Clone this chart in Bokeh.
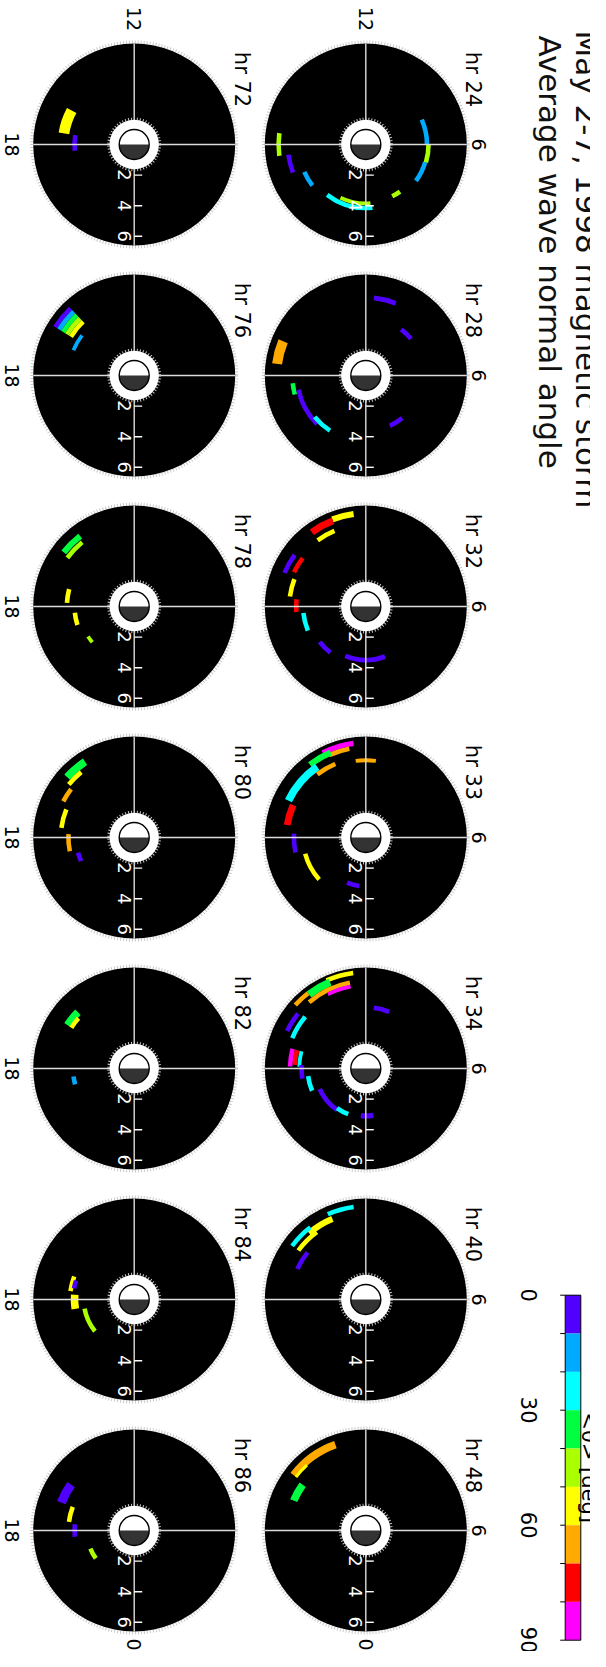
import numpy as np
from bokeh.plotting import figure
from bokeh.models import Range1d, ColumnDataSource, LinearColorMapper
from bokeh.transform import transform
from bokeh.core.properties import value
from bokeh.embed import file_html
from bokeh.resources import INLINE

# ---------------- data ----------------
TITLE_LINES = ["May 2-7, 1998 magnetic storm", "Average wave normal angle"]
CBAR_LABEL = "<θ> [deg]"
HOURS_ROW1 = [24, 28, 32, 33, 34, 40, 48]
HOURS_ROW2 = [72, 76, 78, 80, 82, 84, 86]
ANGLE_PALETTE = ["#5000ff", "#00aaff", "#00ffff", "#00ff40", "#aaff00",
                 "#ffff00", "#ffaa00", "#ff0000", "#ff00ff"]
ANGLE_LOW, ANGLE_HIGH = 0, 90
CBAR_TICKS = [0, 10, 20, 30, 40, 50, 60, 70, 80, 90]
CBAR_LABELED = [0, 30, 60, 90]
L_TICKS = [2, 4, 6]

# arc segments: hour, L (centre), radial width, MLT start, MLT end, mean wave normal angle
ARC_HOUR = [24, 24, 24, 24, 24, 24, 24, 24, 24,
            28, 28, 28, 28, 28, 28, 28,
            32, 32, 32, 32, 32, 32, 32, 32, 32, 32,
            33, 33, 33, 33, 33, 33, 33, 33, 33, 33,
            34, 34, 34, 34, 34, 34, 34, 34, 34, 34, 34, 34, 34, 34, 34, 34,
            40, 40, 40, 40, 40,
            48, 48, 48,
            72, 72,
            76, 76, 76, 76, 76, 76,
            78, 78, 78, 78, 78,
            80, 80, 80, 80, 80, 80,
            82, 82, 82,
            84, 84, 84, 84,
            86, 86, 86, 86]
ARC_L = [4.05, 4.1, 4.0, 3.8, 4.15, 3.85, 4.4, 5.1, 5.7,
         5.1, 3.8, 3.65, 5.85, 4.8, 4.5, 4.3,
         6.1, 6.0, 5.35, 5.75, 5.2, 5.0, 4.55, 4.1, 3.8, 3.5,
         6.2, 5.9, 6.0, 5.6, 5.2, 5.05, 5.2, 4.7, 4.1, 3.2,
         6.3, 6.1, 5.7, 5.45, 6.2, 4.0, 5.7, 5.2, 4.95, 4.65, 4.35, 4.2, 3.8, 3.3, 3.2, 3.1,
         6.1, 5.7, 5.95, 5.45, 4.9,
         5.95, 5.75, 5.1,
         4.65, 3.9,
         6.05, 5.75, 5.45, 5.15, 4.85, 4.3,
         5.8, 5.4, 4.4, 3.9, 3.6,
         5.9, 5.5, 5.2, 4.8, 4.3, 3.8,
         5.2, 4.9, 4.0,
         4.2, 4.0, 3.9, 3.3,
         5.1, 4.3, 3.9, 3.1]
ARC_DL = [0.3, 0.3, 0.3, 0.3, 0.3, 0.25, 0.3, 0.3, 0.3,
          0.3, 0.3, 0.3, 0.65, 0.3, 0.3, 0.3,
          0.4, 0.45, 0.3, 0.3, 0.3, 0.3, 0.3, 0.3, 0.3, 0.3,
          0.35, 0.3, 0.4, 0.5, 0.3, 0.25, 0.45, 0.3, 0.3, 0.3,
          0.3, 0.5, 0.3, 0.25, 0.3, 0.3, 0.3, 0.3, 0.3, 0.3, 0.25, 0.3, 0.3, 0.3, 0.3, 0.35,
          0.3, 0.4, 0.3, 0.3, 0.3,
          0.5, 0.2, 0.5,
          0.7, 0.3,
          0.3, 0.3, 0.3, 0.3, 0.3, 0.25,
          0.4, 0.3, 0.3, 0.3, 0.25,
          0.5, 0.3, 0.3, 0.3, 0.3, 0.3,
          0.5, 0.3, 0.3,
          0.3, 0.3, 0.5, 0.3,
          0.6, 0.3, 0.3, 0.3]
ARC_MLT0 = [3.6, 4.9, 6.0, 1.8, 21.5, 22.3, 19.6, 18.5, 17.5,
            10.5, 8.6, 1.7, 16.5, 18.4, 18.8, 20.6,
            12.5, 13.4, 13.5, 15.6, 15.5, 16.6, 17.6, 18.4, 20.5, 22.5,
            12.5, 12.7, 13.5, 14.3, 13.5, 11.5, 16.4, 17.8, 19.0, 22.5,
            12.5, 13.5, 12.7, 12.7, 14.5, 10.5, 15.4, 15.3, 17.0, 17.0, 17.0, 17.8, 18.5, 19.6, 21.6, 23.6,
            12.5, 13.5, 14.5, 14.4, 15.4,
            13.3, 14.8, 15.6,
            16.1, 17.4,
            14.9, 14.9, 14.9, 14.9, 14.9, 15.5,
            14.5, 14.6, 17.0, 18.4, 20.2,
            14.2, 14.6, 15.5, 16.5, 17.8, 19.0,
            15.0, 15.2, 18.5,
            16.6, 16.8, 17.7, 18.7,
            15.6, 16.6, 17.6, 19.5]
ARC_MLT1 = [4.9, 6.0, 7.6, 2.4, 0.4, 0.3, 20.5, 19.4, 18.5,
            11.6, 9.5, 2.7, 17.5, 19.0, 21.0, 21.8,
            13.4, 14.4, 14.4, 16.5, 16.3, 17.5, 18.3, 19.5, 21.5, 1.4,
            13.8, 13.6, 14.5, 16.3, 14.5, 12.5, 17.4, 18.8, 20.8, 23.5,
            13.6, 14.5, 14.7, 13.8, 15.2, 11.5, 16.3, 16.5, 17.9, 17.8, 17.9, 18.6, 19.5, 21.7, 22.6, 0.6,
            13.6, 14.7, 15.6, 15.6, 16.4,
            15.5, 15.5, 16.5,
            17.4, 18.4,
            15.9, 15.9, 15.9, 15.9, 15.9, 16.5,
            15.5, 15.6, 17.8, 19.2, 20.7,
            15.2, 15.4, 16.2, 17.5, 18.8, 19.6,
            15.8, 15.8, 19.0,
            17.5, 17.3, 18.6, 20.6,
            16.6, 17.5, 18.4, 20.4]
ARC_ANGLE = [15, 45, 15, 45, 25, 45, 15, 5, 45,
             5, 5, 5, 65, 35, 5, 25,
             55, 75, 55, 5, 75, 55, 75, 25, 5, 5,
             85, 65, 35, 25, 65, 65, 75, 5, 55, 5,
             55, 35, 65, 85, 65, 5, 5, 25, 85, 75, 25, 5, 25, 5, 25, 5,
             25, 55, 25, 55, 5,
             65, 55, 35,
             55, 5,
             5, 15, 35, 45, 55, 15,
             35, 45, 55, 55, 45,
             35, 55, 65, 55, 65, 5,
             35, 55, 15,
             55, 5, 55, 45,
             5, 55, 5, 45]

# ---------------- layout (page pixels) ----------------
W, H = 590, 1651
PX_PER_L = 15.3
DISK_R = 101.0
HOLE_R = 24.7
EARTH_R = 15.0
COL_X = [373.3, 141.7]
ROW_Y0, ROW_DY = 152.0, 231.0
FONT = value("DejaVu Sans")


def centre(hour):
    if hour in HOURS_ROW1:
        return COL_X[0], ROW_Y0 + ROW_DY * HOURS_ROW1.index(hour)
    return COL_X[1], ROW_Y0 + ROW_DY * HOURS_ROW2.index(hour)


def mlt_angle(m):
    return np.deg2rad((np.asarray(m, dtype=float) - 6.0) * 15.0)


p = figure(width=W, height=H, x_range=Range1d(8, 8 + W), y_range=Range1d(-(8 + H), -8),
           output_backend="svg", toolbar_location=None, x_axis_type=None, y_axis_type=None,
           min_border=0, outline_line_color=None, background_fill_color="white",
           border_fill_color="white")
p.grid.visible = False

hours = HOURS_ROW1 + HOURS_ROW2
cx = np.array([centre(h)[0] for h in hours])
cy = -np.array([centre(h)[1] for h in hours])

# disks with soft halo
p.circle(cx, cy, radius=DISK_R + 1.5, fill_color=None, line_color="#c8c8c8",
         line_width=3, line_dash="1 2")
p.circle(cx, cy, radius=DISK_R, fill_color="black", line_color=None)

# arcs
mapper = LinearColorMapper(palette=ANGLE_PALETTE, low=ANGLE_LOW, high=ANGLE_HIGH)
ax = np.array([centre(h)[0] for h in ARC_HOUR])
ay = -np.array([centre(h)[1] for h in ARC_HOUR])
L = np.array(ARC_L)
dL = np.array(ARC_DL)
m0 = np.array(ARC_MLT0)
m1 = np.array(ARC_MLT1)
m1 = np.where(m1 < m0, m1 + 24.0, m1)
arc_src = ColumnDataSource(dict(x=ax, y=ay,
                                r0=(L - dL / 2) * PX_PER_L, r1=(L + dL / 2) * PX_PER_L,
                                a0=mlt_angle(m0), a1=mlt_angle(m1), v=ARC_ANGLE))
p.annular_wedge(x="x", y="y", inner_radius="r0", outer_radius="r1",
                start_angle="a0", end_angle="a1", direction="anticlock",
                fill_color=transform("v", mapper), line_color=None, source=arc_src)

# cross hairs
p.segment(x0=cx - DISK_R, y0=cy, x1=cx + DISK_R, y1=cy, line_color="#dcdcdc", line_width=1.4)
p.segment(x0=cx, y0=cy - DISK_R, x1=cx, y1=cy + DISK_R, line_color="#dcdcdc", line_width=1.4)

# inner white hole and Earth
p.circle(cx, cy, radius=HOLE_R + 1.0, fill_color=None, line_color="#c8c8c8",
         line_width=2.5, line_dash="1 2")
p.circle(cx, cy, radius=HOLE_R, fill_color="white", line_color=None)
p.wedge(cx, cy, radius=EARTH_R, start_angle=0, end_angle=np.pi,
        fill_color="white", line_color=None)
p.wedge(cx, cy, radius=EARTH_R, start_angle=np.pi, end_angle=2 * np.pi,
        fill_color="#333333", line_color=None)
p.circle(cx, cy, radius=EARTH_R, fill_color=None, line_color="black", line_width=1.4)

# L ticks along the midnight axis
tx, ty, tl = [], [], []
for xx, yy in zip(cx, cy):
    for lt in L_TICKS:
        tx.append(xx)
        ty.append(yy - lt * PX_PER_L)
        tl.append(str(lt))
tx = np.array(tx)
ty = np.array(ty)
p.segment(x0=tx, y0=ty, x1=tx + 8, y1=ty, line_color="white", line_width=1.4)
p.text(x=tx - 10, y=ty, text=tl, angle=-np.pi / 2, text_align="center",
       text_baseline="middle", text_font=FONT, text_font_size="18px", text_color="white")

# panel titles and MLT labels
lab_x, lab_y, lab_t = [], [], []
mlt_x, mlt_y, mlt_t = [], [], []
for h in hours:
    x0, y0 = centre(h)
    lab_x.append(x0 + 107.5)
    lab_y.append(-(y0 - 65))
    lab_t.append("hr %d" % h)
    if h in HOURS_ROW1:
        mlt_x.append(x0 + 113); mlt_y.append(-y0); mlt_t.append("6")
    else:
        mlt_x.append(x0 - 122); mlt_y.append(-y0); mlt_t.append("18")
    if h in (HOURS_ROW1[0], HOURS_ROW2[0]):
        mlt_x.append(x0); mlt_y.append(-(y0 - 125.5)); mlt_t.append("12")
    if h in (HOURS_ROW1[-1], HOURS_ROW2[-1]):
        mlt_x.append(x0); mlt_y.append(-(y0 + 114)); mlt_t.append("0")
p.text(x=lab_x, y=lab_y, text=lab_t, angle=-np.pi / 2, text_align="center",
       text_baseline="middle", text_font=FONT, text_font_size="21px", text_color="black")
p.text(x=mlt_x, y=mlt_y, text=mlt_t, angle=-np.pi / 2, text_align="center",
       text_baseline="middle", text_font=FONT, text_font_size="19px", text_color="black")

# titles
p.text(x=[594, 557], y=[-38, -43], text=TITLE_LINES, angle=-np.pi / 2, text_align="left",
       text_baseline="alphabetic", text_font=FONT, text_font_size="31px", text_color="#111111")

# colour bar
CB_X0, CB_X1 = 572.7, 588.3
CB_Y0, CB_Y1 = 1302.7, 1647.7
band = (CB_Y1 - CB_Y0) / (ANGLE_HIGH - ANGLE_LOW)
edges = np.array(CBAR_TICKS, dtype=float)
cb_src = ColumnDataSource(dict(left=[CB_X0] * 9, right=[CB_X1] * 9,
                               top=-(CB_Y0 + edges[:-1] * band),
                               bottom=-(CB_Y0 + edges[1:] * band),
                               v=(edges[:-1] + edges[1:]) / 2))
p.quad(left="left", right="right", top="top", bottom="bottom",
       fill_color=transform("v", mapper), line_color=None, source=cb_src)
p.quad(left=[CB_X0], right=[CB_X1], top=[-CB_Y0], bottom=[-CB_Y1],
       fill_color=None, line_color="black", line_width=1)
tyc = -(CB_Y0 + edges * band)
p.segment(x0=[CB_X0 - 5] * len(edges), y0=tyc, x1=[CB_X0] * len(edges), y1=tyc,
          line_color="black", line_width=1)
p.text(x=[536] * len(CBAR_LABELED),
       y=[-(CB_Y0 + v * band) for v in CBAR_LABELED],
       text=[str(v) for v in CBAR_LABELED], angle=-np.pi / 2, text_align="center",
       text_baseline="middle", text_font=FONT, text_font_size="21px", text_color="black")
p.text(x=[596], y=[-(CB_Y0 + CB_Y1) / 2], text=[CBAR_LABEL], angle=-np.pi / 2,
       text_align="center", text_baseline="alphabetic", text_font=FONT,
       text_font_size="21px", text_color="black")

open("out.html", "w").write(file_html(p, INLINE))
